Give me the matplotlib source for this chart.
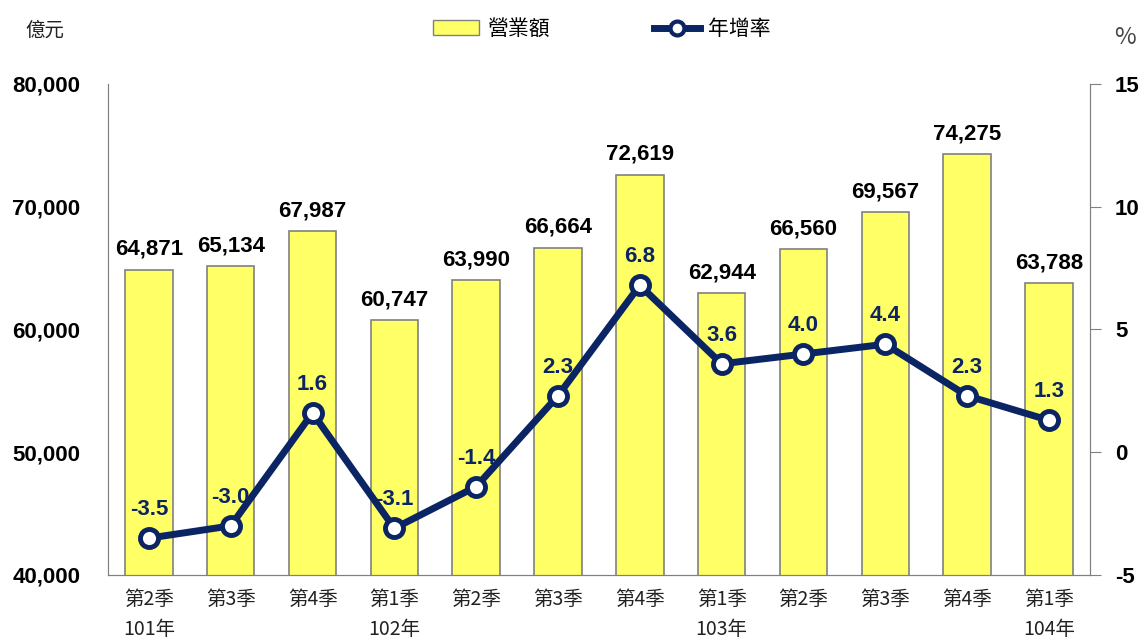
import matplotlib
matplotlib.use("Agg")
import matplotlib.pyplot as plt
from matplotlib.lines import Line2D
from matplotlib.patches import Patch

plt.rcParams['font.family'] = ['Noto Sans CJK TC', 'DejaVu Sans']

quarters = ["第2季\n101年", "第3季", "第4季", "第1季\n102年", "第2季", "第3季",
            "第4季", "第1季\n103年", "第2季", "第3季", "第4季", "第1季\n104年"]
revenue = [64871, 65134, 67987, 60747, 63990, 66664, 72619, 62944, 66560, 69567, 74275, 63788]
growth = [-3.5, -3.0, 1.6, -3.1, -1.4, 2.3, 6.8, 3.6, 4.0, 4.4, 2.3, 1.3]
left_ticks = [40000, 50000, 60000, 70000, 80000]
right_ticks = [-5, 0, 5, 10, 15]

navy = '#0A2464'
num_font = 'Liberation Sans'
fig = plt.figure(figsize=(11.4, 6.41), dpi=100)
ax = fig.add_axes([0.0947, 0.103, 0.8613, 0.766])
x = list(range(len(quarters)))
ax.bar(x, revenue, width=0.58, color='#FFFF66', edgecolor='#808080', linewidth=1.2, zorder=2)
ax.set_ylim(40000, 80000)
ax.set_xlim(-0.5, len(quarters) - 0.5)
ax.set_yticks(left_ticks)
ax.set_yticklabels([f"{v:,}" for v in left_ticks], fontsize=16, fontweight='bold', family=num_font)
ax.tick_params(axis='y', length=0, pad=20)
ax.set_xticks(x)
ax.set_xticklabels(quarters, fontsize=14, color='#222222', linespacing=1.55, va='top')
ax.tick_params(axis='x', length=0, pad=10)
ax.spines['top'].set_visible(False)
for s in ['left', 'bottom', 'right']:
    ax.spines[s].set_color('#808080')
for xi, v in zip(x, revenue):
    ax.annotate(f"{v:,}", (xi, v), xytext=(0, 7), textcoords='offset points',
                ha='center', va='bottom', fontsize=16, fontweight='bold', family=num_font)

ax2 = ax.twinx()
ax2.set_ylim(-5, 15)
ax2.set_yticks(right_ticks)
ax2.set_yticklabels([str(v) for v in right_ticks], fontsize=16, fontweight='bold', family=num_font)
ax2.tick_params(axis='y', length=8, color='#808080', pad=10)
ax2.spines['top'].set_visible(False)
for s in ['left', 'bottom', 'right']:
    ax2.spines[s].set_color('#808080')
ax2.plot(x, growth, color=navy, linewidth=5, marker='o', markersize=13,
         markerfacecolor='white', markeredgecolor=navy, markeredgewidth=3.5, zorder=3)
for xi, g in zip(x, growth):
    ax2.annotate(f"{g:.1f}", (xi, g), xytext=(0, 13), textcoords='offset points',
                 ha='center', va='bottom', fontsize=16, fontweight='bold', color=navy,
                 family=num_font)

fig.text(0.022, 0.953, "億元", fontsize=14, color='#222222', va='center')
fig.text(0.996, 0.942, "%", fontsize=17, color='#444444', va='center', ha='right')

handles = [Patch(facecolor='#FFFF66', edgecolor='#808080', label='營業額'),
           Line2D([0], [0], color=navy, linewidth=5, marker='o', markersize=10,
                  markerfacecolor='white', markeredgecolor=navy, markeredgewidth=3, label='年增率')]
fig.legend(handles=handles, loc='center', bbox_to_anchor=(0.528, 0.955), ncol=2, frameon=False,
           fontsize=15, handlelength=2.2, columnspacing=5, handletextpad=0.4)

fig.savefig('out.png', dpi=100)
